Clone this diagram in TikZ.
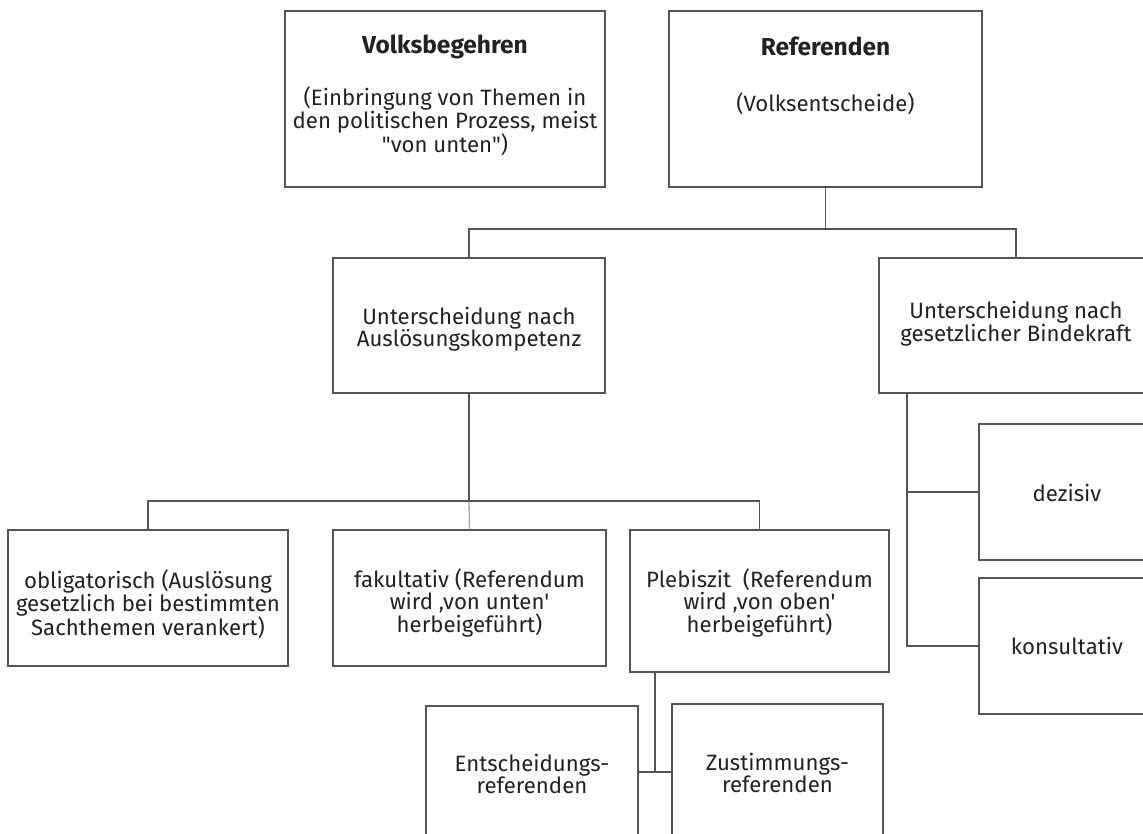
\documentclass[tikz,border=0pt]{standalone}
\usepackage{fontspec}
\setmainfont{Fira Sans}[Ligatures=TeXOff]
\definecolor{linec}{HTML}{555555}
\definecolor{textc}{HTML}{222222}
\tikzset{
  box/.style={draw=linec, line width=1.3pt, inner sep=0pt, fill=white},
  txt/.style={text=textc, font=\fontsize{22.2}{21.8}\selectfont, align=center, inner sep=0pt},
  ttl/.style={text=textc, font=\fontsize{24.5}{26}\selectfont\bfseries, align=center, inner sep=0pt},
  conn/.style={draw=linec, line width=1.3pt},
  connlight/.style={draw=gray!70, line width=1.3pt}
}
\begin{document}
\begin{tikzpicture}[x=1pt,y=-1pt]
\useasboundingbox (0,0) rectangle (1143,834);
\clip (0,0) rectangle (1143,834);
\fill[white] (0,0) rectangle (1143,834);
% boxes
\node[box, minimum width=320, minimum height=176] (vb) at (445,99) {};
\node[box, minimum width=313, minimum height=176] (ref) at (825.5,99) {};
\node[box, minimum width=272, minimum height=135] (ausl) at (469,325.5) {};
\node[box, minimum width=274, minimum height=135] (bind) at (1016,325.5) {};
\node[box, minimum width=280, minimum height=136] (obl) at (148,598) {};
\node[box, minimum width=273, minimum height=136] (fak) at (469.5,598) {};
\node[box, minimum width=259, minimum height=142] (pleb) at (759.5,601) {};
\node[box, minimum width=176, minimum height=136] (dez) at (1067,492) {};
\node[box, minimum width=176, minimum height=136] (kon) at (1067,646) {};
\node[box, minimum width=212, minimum height=132] (ent) at (532,772) {};
\node[box, minimum width=211, minimum height=136] (zus) at (777.5,772) {};
% texts
\node[ttl] (vbt) at (445,47) {Volksbegehren};
\node[txt] (vbx) at (445,121) {(Einbringung von Themen in\\den politischen Prozess, meist\\"von unten")};
\node[ttl] (reft) at (825.5,46) {Referenden};
\node[txt] (refx) at (825.5,104) {(Volksentscheide)};
\node[txt] (auslx) at (469,329) {Unterscheidung nach\\Auslösungskompetenz};
\node[txt] (bindx) at (1016,324) {Unterscheidung nach\\gesetzlicher Bindekraft};
\node[txt] (oblx) at (148,604) {obligatorisch (Auslösung\\gesetzlich bei bestimmten\\Sachthemen verankert)};
\node[txt] (fakx) at (469.5,603) {fakultativ (Referendum\\wird ‚von unten'\\herbeigeführt)};
\node[txt] (plebx) at (759.5,603) {Plebiszit\ \ (Referendum\\wird ‚von oben'\\herbeigeführt)};
\node[txt] (dezx) at (1067,493) {dezisiv};
\node[txt] (konx) at (1067,646) {konsultativ};
\node[txt] (entx) at (532,774) {Entscheidungs-\\referenden};
\node[txt] (zusx) at (777.5,773) {Zustimmungs-\\referenden};
% connectors
\coordinate (j1) at (825.5,229);
\coordinate (j2) at (469,501);
\coordinate (j3) at (907,0);
\coordinate (j4) at (655,0);
\draw[conn] (ref.south) -- (j1);
\draw[conn] (ausl.north) |- (j1) -| (bind.north);
\draw[conn] (ausl.south) -- (j2);
\draw[connlight] (j2) -- (fak.north);
\draw[conn] (obl.north) |- (j2) -| (pleb.north);
\draw[conn] (bind.south -| j3) |- (kon.west);
\draw[conn] (dez.west) -- (dez.west -| j3);
\draw[conn] (pleb.south -| j4) -- (ent.east -| j4);
\draw[conn] (ent.east) -- (zus.west);
\end{tikzpicture}
\end{document}
